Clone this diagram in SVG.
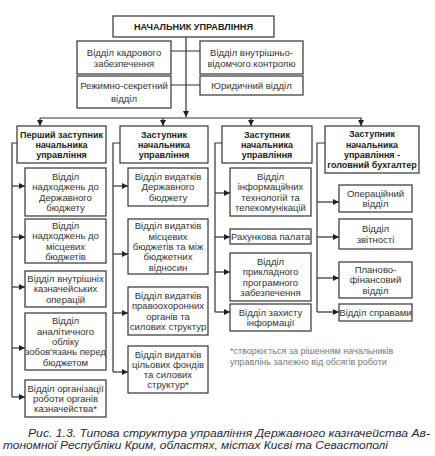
<svg xmlns="http://www.w3.org/2000/svg" width="435" height="456" viewBox="0 0 435 456">
<defs>
<style>
.box{fill:#fff;stroke:#333;stroke-width:1.2}
.ln{fill:none;stroke:#333;stroke-width:1.2}
.t{font-family:"Liberation Sans",Arial,sans-serif;font-size:9.5px;fill:#333;text-anchor:middle}
.h{font-family:"Liberation Sans",Arial,sans-serif;font-size:9px;font-weight:bold;fill:#222;text-anchor:middle}
.fn{font-family:"Liberation Sans",Arial,sans-serif;font-size:9px;fill:#777}
.cap{font-family:"Liberation Sans",Arial,sans-serif;font-size:10.5px;font-style:italic;fill:#2a2a35}
</style>
<marker id="ar" viewBox="0 0 6 6" refX="6" refY="3" markerWidth="6" markerHeight="6" markerUnits="userSpaceOnUse" orient="auto">
<path d="M0,0 L6,3 L0,6 z" fill="#222"/>
</marker>
</defs>
<rect width="435" height="456" fill="#fff"/>

<g id="connectors">
<path class="ln" d="M186,37 V117" marker-end="url(#ar)"/>
<path class="ln" d="M171,51 H200 M171,85 H200"/>
<path class="ln" d="M40,118 H362"/>
<path class="ln" d="M40,118 V126" marker-end="url(#ar)"/>
<path class="ln" d="M163,118 V126" marker-end="url(#ar)"/>
<path class="ln" d="M251,118 V126" marker-end="url(#ar)"/>
<path class="ln" d="M361,118 V126" marker-end="url(#ar)"/>
<path class="ln" d="M17,143 H12 V397"/>
<path class="ln" d="M12,186 H25" marker-end="url(#ar)"/>
<path class="ln" d="M12,237 H25" marker-end="url(#ar)"/>
<path class="ln" d="M12,287 H25" marker-end="url(#ar)"/>
<path class="ln" d="M12,348 H25" marker-end="url(#ar)"/>
<path class="ln" d="M12,397 H25" marker-end="url(#ar)"/>
<path class="ln" d="M120,143 H113 V372"/>
<path class="ln" d="M113,186 H128" marker-end="url(#ar)"/>
<path class="ln" d="M113,254 H128" marker-end="url(#ar)"/>
<path class="ln" d="M113,313 H128" marker-end="url(#ar)"/>
<path class="ln" d="M113,372 H128" marker-end="url(#ar)"/>
<path class="ln" d="M222,143 H215 V312"/>
<path class="ln" d="M215,193 H230" marker-end="url(#ar)"/>
<path class="ln" d="M215,237 H230" marker-end="url(#ar)"/>
<path class="ln" d="M215,272 H230" marker-end="url(#ar)"/>
<path class="ln" d="M215,312 H230" marker-end="url(#ar)"/>
<path class="ln" d="M325,143 H317 V312"/>
<path class="ln" d="M317,202 H339" marker-end="url(#ar)"/>
<path class="ln" d="M317,237 H339" marker-end="url(#ar)"/>
<path class="ln" d="M317,278 H339" marker-end="url(#ar)"/>
<path class="ln" d="M317,312 H339" marker-end="url(#ar)"/>
</g>

<g id="head">
<rect class="box" x="113" y="16" width="161" height="21"/>
<text class="h" x="193.5" y="30" font-size="10" textLength="119" lengthAdjust="spacingAndGlyphs">НАЧАЛЬНИК УПРАВЛІННЯ</text>
</g>
<g id="kadry">
<rect class="box" x="77" y="41" width="94" height="33"/>
<text class="t" x="124" y="55.5">Відділ кадрового</text>
<text class="t" x="124" y="67">забезпечення</text>
</g>
<g id="kontrol">
<rect class="box" x="200" y="41" width="103" height="33"/>
<text class="t" x="251.5" y="55.5">Відділ внутрішньо-</text>
<text class="t" x="251.5" y="67">відомчого контролю</text>
</g>
<g id="rezhym">
<rect class="box" x="77" y="76" width="94" height="32"/>
<text class="t" x="124" y="89">Режимно-секретний</text>
<text class="t" x="124" y="101.5">відділ</text>
</g>
<g id="yuryd">
<rect class="box" x="200" y="76" width="103" height="19"/>
<text class="t" x="251.5" y="89">Юридичний відділ</text>
</g>

<g id="zast1">
<rect class="box" x="17" y="126" width="89" height="37"/>
<text class="h" x="61.5" y="137.6">Перший заступник</text>
<text class="h" x="61.5" y="147.9">начальника</text>
<text class="h" x="61.5" y="158.2">управління</text>
</g>
<g id="zast2">
<rect class="box" x="120" y="126" width="88" height="37"/>
<text class="h" x="164" y="137.6">Заступник</text>
<text class="h" x="164" y="147.9">начальника</text>
<text class="h" x="164" y="158.2">управління</text>
</g>
<g id="zast3">
<rect class="box" x="222" y="126" width="90" height="37"/>
<text class="h" x="267" y="137.6">Заступник</text>
<text class="h" x="267" y="147.9">начальника</text>
<text class="h" x="267" y="158.2">управління</text>
</g>
<g id="zast4">
<rect class="box" x="325" y="126" width="94" height="47"/>
<text class="h" x="372" y="137.4">Заступник</text>
<text class="h" x="372" y="147.7">начальника</text>
<text class="h" x="372" y="158.1">управління -</text>
<text class="h" x="372" y="168.4">головний бухгалтер</text>
</g>

<g id="c1b1">
<rect class="box" x="25" y="168" width="81" height="48"/>
<text class="t" x="65.5" y="180">Відділ</text>
<text class="t" x="65.5" y="190.3">надходжень до</text>
<text class="t" x="65.5" y="200.6">Державного</text>
<text class="t" x="65.5" y="210.9">бюджету</text>
</g>
<g id="c1b2">
<rect class="box" x="25" y="219" width="81" height="44"/>
<text class="t" x="65.5" y="229">Відділ</text>
<text class="t" x="65.5" y="239.3">надходжень до</text>
<text class="t" x="65.5" y="249.6">місцевих</text>
<text class="t" x="65.5" y="259.9">бюджетів</text>
</g>
<g id="c1b3">
<rect class="box" x="25" y="271" width="81" height="36"/>
<text class="t" x="65.5" y="282.1">Відділ внутрішніх</text>
<text class="t" x="65.5" y="292.4">казначейських</text>
<text class="t" x="65.5" y="302.7">операцій</text>
</g>
<g id="c1b4">
<rect class="box" x="25" y="313" width="81" height="57"/>
<text class="t" x="65.5" y="324.3">Відділ</text>
<text class="t" x="65.5" y="334.6">аналітичного</text>
<text class="t" x="65.5" y="344.9">обліку</text>
<text class="t" x="65.5" y="355.2">зобов'язань перед</text>
<text class="t" x="65.5" y="365.5">бюджетом</text>
</g>
<g id="c1b5">
<rect class="box" x="25" y="380" width="81" height="37"/>
<text class="t" x="65.5" y="391.6">Відділ організації</text>
<text class="t" x="65.5" y="401.9">роботи органів</text>
<text class="t" x="65.5" y="412.2">казначейства*</text>
</g>

<g id="c2b1">
<rect class="box" x="128" y="168" width="80" height="38"/>
<text class="t" x="168" y="180.1">Відділ видатків</text>
<text class="t" x="168" y="190.4">Державного</text>
<text class="t" x="168" y="200.7">бюджету</text>
</g>
<g id="c2b2">
<rect class="box" x="128" y="219" width="80" height="55"/>
<text class="t" x="168" y="229.3">Відділ видатків</text>
<text class="t" x="168" y="239.6">місцевих</text>
<text class="t" x="168" y="249.9">бюджетів та між</text>
<text class="t" x="168" y="260.2">бюджетних</text>
<text class="t" x="168" y="270.5">відносин</text>
</g>
<g id="c2b3">
<rect class="box" x="128" y="287" width="80" height="48"/>
<text class="t" x="168" y="299">Відділ видатків</text>
<text class="t" x="168" y="309.3">правоохоронних</text>
<text class="t" x="168" y="319.6">органів та</text>
<text class="t" x="168" y="329.9">силових структур</text>
</g>
<g id="c2b4">
<rect class="box" x="128" y="346" width="80" height="47"/>
<text class="t" x="168" y="357.5">Відділ видатків</text>
<text class="t" x="168" y="367.8">цільових фондів</text>
<text class="t" x="168" y="378.1">та силових</text>
<text class="t" x="168" y="388.4">структур*</text>
</g>

<g id="c3b1">
<rect class="box" x="230" y="168" width="81" height="48"/>
<text class="t" x="270.5" y="180">Відділ</text>
<text class="t" x="270.5" y="190.3">інформаційних</text>
<text class="t" x="270.5" y="200.6">технологій та</text>
<text class="t" x="270.5" y="210.9">телекомунікацій</text>
</g>
<g id="c3b2">
<rect class="box" x="230" y="229" width="81" height="15"/>
<text class="t" x="270.5" y="240">Рахункова палата</text>
</g>
<g id="c3b3">
<rect class="box" x="230" y="253" width="81" height="48"/>
<text class="t" x="270.5" y="265">Відділ</text>
<text class="t" x="270.5" y="275.3">прикладного</text>
<text class="t" x="270.5" y="285.6">програмного</text>
<text class="t" x="270.5" y="295.9">забезпечення</text>
</g>
<g id="c3b4">
<rect class="box" x="230" y="304" width="81" height="27"/>
<text class="t" x="270.5" y="315.8">Відділ захисту</text>
<text class="t" x="270.5" y="326.1">інформації</text>
</g>

<g id="c4b1">
<rect class="box" x="339" y="185" width="73" height="27"/>
<text class="t" x="375.5" y="196.8">Операційний</text>
<text class="t" x="375.5" y="207.1">відділ</text>
</g>
<g id="c4b2">
<rect class="box" x="339" y="219" width="73" height="30"/>
<text class="t" x="375.5" y="231.5">Відділ</text>
<text class="t" x="375.5" y="243.3">звітності</text>
</g>
<g id="c4b3">
<rect class="box" x="339" y="262" width="73" height="36"/>
<text class="t" x="375.5" y="273.1">Планово-</text>
<text class="t" x="375.5" y="283.4">фінансовий</text>
<text class="t" x="375.5" y="293.7">відділ</text>
</g>
<g id="c4b4">
<rect class="box" x="339" y="304" width="73" height="17"/>
<text class="t" x="375.5" y="315.9">Відділ справами</text>
</g>

<text class="fn" x="230" y="354">*створюється за рішенням начальників</text>
<text class="fn" x="230" y="365">управлінь залежно від обсягів роботи</text>

<text class="cap" x="28" y="436.5" textLength="402" lengthAdjust="spacingAndGlyphs">Рис. 1.3. Типова структура управління Державного казначейства Ав-</text>
<text class="cap" x="3" y="448.5" textLength="385" lengthAdjust="spacingAndGlyphs">тономної Республіки Крим, областях, містах Києві та Севастополі</text>
</svg>
